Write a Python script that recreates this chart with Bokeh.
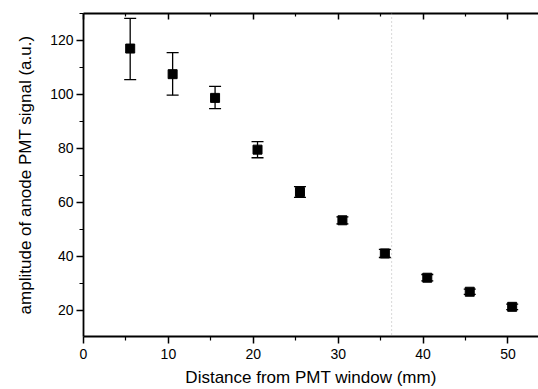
from bokeh.plotting import figure
from bokeh.models import ColumnDataSource, Whisker, LinearAxis, FixedTicker, Range1d, Span, TeeHead
from bokeh.embed import file_html
from bokeh.resources import INLINE

# data
distance = [5.5, 10.5, 15.5, 20.5, 25.5, 30.5, 35.5, 40.5, 45.5, 50.5]
amplitude = [117.0, 107.5, 98.7, 79.5, 63.8, 53.3, 41.0, 32.0, 26.8, 21.2]
err_up = [11.2, 8.0, 4.3, 3.0, 2.0, 1.3, 1.5, 1.2, 1.0, 1.0]
err_down = [11.5, 7.8, 4.0, 3.0, 2.0, 1.3, 1.5, 1.2, 1.0, 1.0]
x_ticks = [0, 10, 20, 30, 40, 50]
x_minor = [5, 15, 25, 35, 45]
y_ticks = [20, 40, 60, 80, 100, 120]
y_minor = [10, 30, 50, 70, 90, 110, 130]

upper = [a + u for a, u in zip(amplitude, err_up)]
lower = [a - d for a, d in zip(amplitude, err_down)]
src = ColumnDataSource(dict(x=distance, y=amplitude, upper=upper, lower=lower))

FONT = "Liberation Sans"

p = figure(width=538, height=389, output_backend="svg", toolbar_location=None,
           x_range=Range1d(0, 53.6), y_range=Range1d(10.2, 130),
           min_border_left=83, min_border_right=0, min_border_top=13, min_border_bottom=10)
p.outline_line_color = None
p.xgrid.visible = False
p.ygrid.visible = False
p.background_fill_color = "white"
p.border_fill_color = "white"

# scan artefact (fold line)
p.add_layout(Span(location=36.3, dimension="height", line_color="#b0b0b0",
                  line_dash="1 3", line_width=1))

w = Whisker(source=src, base="x", upper="upper", lower="lower",
            line_color="black", line_width=1.3,
            upper_head=TeeHead(size=12, line_color="black", line_width=1.3),
            lower_head=TeeHead(size=12, line_color="black", line_width=1.3))
p.add_layout(w)
p.scatter("x", "y", source=src, marker="square", size=9, color="black")

for ax in (p.xaxis[0], p.yaxis[0]):
    ax.axis_line_width = 1.8
    ax.axis_line_color = "black"
    ax.major_tick_line_width = 1.5
    ax.minor_tick_line_width = 1.2
    ax.major_tick_out = 7
    ax.major_tick_in = 0
    ax.minor_tick_out = 4
    ax.minor_tick_in = 0
    ax.major_label_text_font = FONT
    ax.major_label_text_font_size = "14px"
    ax.major_label_text_color = "black"
    ax.axis_label_text_font = FONT
    ax.axis_label_text_font_size = "17px"
    ax.axis_label_text_font_style = "normal"
    ax.axis_label_text_color = "black"

p.xaxis[0].ticker = FixedTicker(ticks=x_ticks, minor_ticks=x_minor)
p.yaxis[0].ticker = FixedTicker(ticks=y_ticks, minor_ticks=y_minor)
p.xaxis[0].axis_label = "Distance from PMT window (mm)"
p.yaxis[0].axis_label = "amplitude of anode PMT signal (a.u.)"
p.xaxis[0].major_label_standoff = 5
p.xaxis[0].axis_label_standoff = 6
p.yaxis[0].major_label_standoff = 3
p.yaxis[0].axis_label_standoff = 12

top = LinearAxis(ticker=FixedTicker(ticks=x_ticks, minor_ticks=x_minor))
top.axis_line_width = 1.8
top.major_tick_in = 6
top.major_tick_out = 0
top.minor_tick_in = 3
top.minor_tick_out = 0
top.major_tick_line_width = 1.5
top.minor_tick_line_width = 1.2
top.major_label_text_font_size = "0px"
top.major_label_text_color = None
top.major_label_standoff = 0
p.add_layout(top, "above")

open("out.html", "w").write(file_html(p, INLINE))
